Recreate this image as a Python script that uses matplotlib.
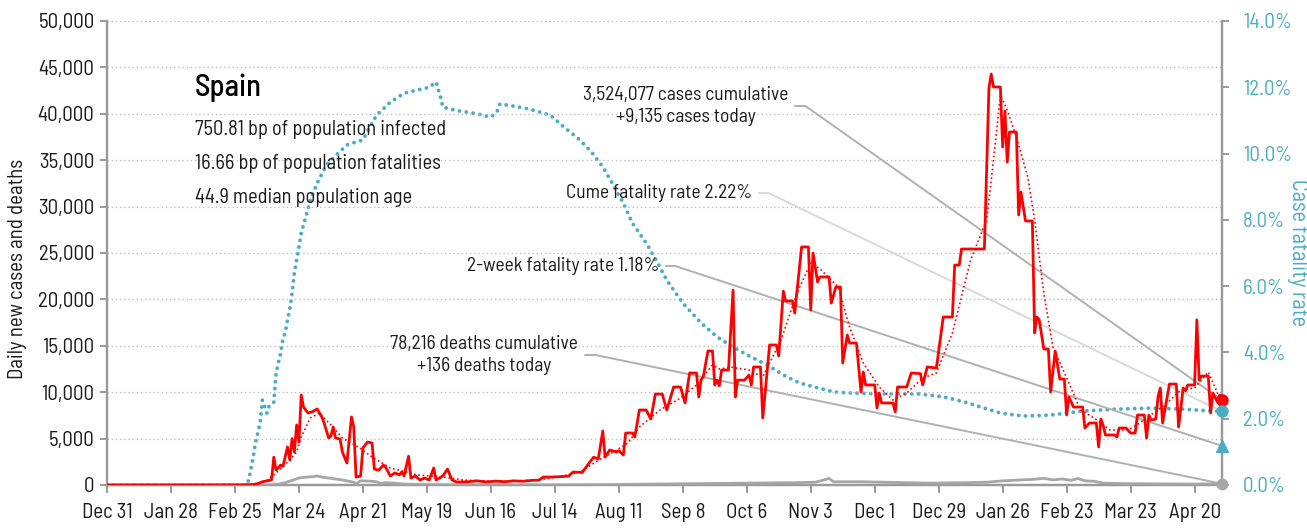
import matplotlib
matplotlib.use("Agg")
import matplotlib.pyplot as plt
import matplotlib.ticker as mticker
import pandas as pd
from matplotlib import font_manager

START = pd.Timestamp("2019-12-31")

# daily new cases (day offset from Dec 31, value)
case_days = [0, 60, 64, 66, 68, 70, 72, 73, 74, 76, 77, 79, 80, 81, 82, 83, 84, 85, 86, 88,
             90, 92, 94, 95, 97, 98, 99, 100, 102, 103, 105, 107, 108, 109, 111, 112, 114, 116, 117, 119,
             121, 122, 124, 126, 128, 129, 130, 132, 133, 135, 137, 139, 141, 143, 144, 147, 149, 151, 153, 158,
             162, 166, 170, 174, 178, 182, 186, 189, 191, 195, 198, 202, 204, 208, 211, 213, 215, 217, 218, 220,
             223, 224, 226, 227, 230, 231, 233, 236, 238, 240, 243, 245, 248, 251, 253, 255, 258, 259, 260, 261,
             263, 265, 266, 267, 268, 269, 272, 274, 275, 276, 279, 281, 282, 283, 286, 287, 290, 293, 294, 296,
             297, 300, 301, 304, 307, 308, 309, 311, 312, 316, 317, 319, 321, 322, 324, 325, 328, 330, 331, 332,
             336, 337, 338, 339, 344, 345, 346, 350, 352, 356, 357, 359, 363, 366, 370, 371, 373, 374, 384, 386,
             387, 388, 391, 392, 393, 394, 395, 398, 399, 400, 402, 405, 406, 407, 408, 410, 412, 413, 415, 417,
             419, 420, 421, 423, 427, 428, 430, 433, 434, 435, 436, 437, 441, 442, 443, 446, 448, 450, 451, 454,
             455, 456, 457, 459, 460, 461, 462, 464, 465, 468, 469, 471, 472, 473, 476, 477, 478, 479, 482, 483,
             484, 486, 487, 488]
case_vals = [0, 0, 50, 150, 350, 450, 540, 3000, 1600, 2150, 2000, 4100, 2700, 5000, 3550, 6470, 4630, 9700, 8400, 7760,
             7900, 8200, 7330, 6700, 5070, 5280, 6250, 5070, 4960, 3560, 2370, 7330, 6250, 860, 970, 3990, 4630, 4530, 1720, 1600,
             2150, 1900, 970, 1300, 1100, 1400, 970, 3100, 750, 970, 540, 750, 540, 1830, 540, 970, 1720, 540, 320, 350,
             450, 330, 420, 350, 450, 400, 500, 520, 860, 860, 900, 950, 1400, 1350, 2370, 3000, 2800, 5820, 3000, 3770,
             3560, 3700, 3230, 5600, 5600, 5170, 8080, 8080, 7110, 9800, 9800, 8080, 10560, 10560, 8840, 12070, 12070, 9480, 11300, 11700,
             14440, 14440, 10780, 11300, 10700, 12390, 12390, 21000, 9480, 11300, 11300, 11850, 10780, 12720, 12720, 7220, 15090, 15090, 13900, 20900,
             19830, 19830, 18530, 25650, 25650, 18860, 25000, 21880, 22420, 22420, 19600, 21340, 21340, 13150, 16160, 15300, 15300, 10020, 12180, 10780,
             10780, 8300, 9910, 8840, 8840, 7870, 10560, 10560, 12070, 12000, 10780, 12720, 12610, 18100, 18100, 23700, 23700, 25430, 25430, 42780,
             44290, 42890, 42890, 36420, 40300, 34800, 38040, 38040, 29100, 31570, 28450, 28450, 16380, 18100, 17800, 14660, 14660, 10020, 14440, 11420,
             11420, 7540, 9480, 8400, 8400, 6140, 6680, 6680, 4100, 7110, 6400, 5390, 5390, 5170, 6140, 6140, 5600, 5600, 7540, 7540,
             5060, 7540, 7000, 7100, 9480, 10450, 6680, 9480, 10880, 10880, 6250, 10450, 10130, 10780, 10780, 17800, 11300, 11740, 11740, 7760,
             9910, 8940, 9700, 9135]

# smoothed new cases
avg_days = [0, 65, 70, 74, 80, 83, 85, 89, 93, 98, 103, 110, 116, 124, 136, 147, 156, 165, 180, 190,
            198, 207, 216, 222, 228, 233, 242, 251, 258, 265, 268, 273, 281, 287, 295, 302, 308, 312, 320, 325,
            331, 338, 344, 350, 357, 363, 370, 378, 385, 388, 391, 394, 398, 403, 406, 410, 414, 421, 426, 432,
            439, 447, 452, 458, 464, 470, 476, 482, 486, 488]
avg_vals = [0, 50, 500, 1290, 2700, 3560, 5170, 7220, 7760, 6470, 5070, 4100, 3020, 1830, 1080, 860, 540, 420, 420, 600,
            900, 1400, 2800, 3600, 4530, 6250, 8080, 9370, 10780, 12930, 12500, 12700, 12390, 11640, 15630, 20690, 23920, 23300, 21340, 17030,
            13150, 10560, 9160, 9910, 11530, 12070, 16380, 24250, 28560, 35020, 42030, 40410, 37500, 33190, 28560, 20690, 14870, 10990, 8080, 7220,
            5930, 5930, 6680, 7760, 8840, 10240, 10450, 12180, 9910, 9370]

# daily deaths
death_days = [0, 70, 75, 78, 81, 84, 87, 90, 92, 94, 97, 100, 103, 106, 108, 109, 111, 115, 118, 120,
              122, 126, 130, 140, 150, 200, 220, 240, 260, 280, 300, 310, 316, 318, 330, 340, 350, 360, 375, 385,
              392, 400, 405, 410, 414, 418, 422, 425, 428, 432, 436, 445, 460, 475, 488]
death_vals = [0, 0, 100, 250, 500, 750, 850, 900, 970, 850, 750, 650, 540, 400, 300, 150, 450, 420, 350, 150,
              250, 200, 100, 50, 30, 20, 50, 100, 150, 200, 250, 300, 700, 350, 350, 300, 250, 200, 250, 300,
              450, 550, 600, 720, 550, 650, 500, 700, 450, 400, 200, 150, 120, 100, 136]

# case fatality rate, percent
cfr_days = [0, 61, 62, 64, 65, 67, 68, 70, 71, 73, 74, 76, 77, 78, 79, 80, 81, 82, 83, 84,
            85, 87, 89, 92, 96, 101, 105, 109, 112, 115, 118, 124, 130, 136, 141, 144, 146, 147, 153, 162,
            168, 171, 172, 178, 185, 194, 200, 206, 212, 217, 222, 226, 230, 236, 241, 245, 252, 260, 267, 274,
            282, 289, 296, 303, 311, 318, 324, 340, 355, 366, 375, 384, 391, 401, 413, 427, 442, 457, 471, 484,
            488]
cfr_vals = [0, 0, 0.15, 0.84, 1.27, 1.87, 2.56, 2.17, 2.4, 2.5, 3.38, 3.98, 4.4, 4.6, 4.98, 5.3, 5.79, 6.4, 6.79, 7.18,
            7.6, 8.09, 8.6, 9.11, 9.65, 10.0, 10.26, 10.35, 10.41, 10.8, 11.16, 11.55, 11.82, 11.92, 12.0, 12.16, 11.7, 11.4, 11.3, 11.2,
            11.1, 11.3, 11.5, 11.43, 11.34, 11.16, 10.8, 10.47, 10.05, 9.6, 9.0, 8.5, 7.9, 7.3, 6.7, 6.18, 5.49, 4.89, 4.47, 4.16,
            3.86, 3.62, 3.32, 3.08, 2.93, 2.81, 2.78, 2.75, 2.75, 2.66, 2.51, 2.32, 2.17, 2.08, 2.11, 2.23, 2.29, 2.32, 2.29, 2.23,
            2.22]

cases_today = 9135
deaths_today = 136
cume_rate = 2.22
two_week_rate = 1.18

tick_labels = ["Dec 31", "Jan 28", "Feb 25", "Mar 24", "Apr 21", "May 19", "Jun 16", "Jul 14", "Aug 11",
               "Sep 8", "Oct 6", "Nov 3", "Dec 1", "Dec 29", "Jan 26", "Feb 23", "Mar 23", "Apr 20"]

info_lines = ["750.81 bp of population infected",
              "16.66 bp of population fatalities",
              "44.9 median population age"]

RED = "#ff0000"
BLUE = "#4bacc6"
GREY = "#a6a6a6"
AXIS = "#9a9a9a"
TEXT = "#1a1a1a"

installed = {f.name for f in font_manager.fontManager.ttflist}
family = next((f for f in ["Barlow Semi Condensed", "Barlow Condensed", "Roboto Condensed",
                           "Liberation Sans Narrow"] if f in installed), "DejaVu Sans")
plt.rcParams["font.family"] = family


def to_date(days):
    return START + pd.to_timedelta(days, unit="D")


fig = plt.figure(figsize=(13.07, 5.29), dpi=100)
ax = fig.add_axes([107 / 1307, 44 / 529, 1115 / 1307, 464 / 529])
ax2 = ax.twinx()
ax.set_zorder(2)
ax2.set_zorder(1)
ax.patch.set_visible(False)

end_day = case_days[-1]
ax.set_xlim(to_date(0), to_date(end_day))
ax.set_ylim(0, 50000)
ax2.set_ylim(0, 14)
scale = 50000 / 14  # right-axis percent -> left-axis units

# grid
for v in range(5000, 50001, 5000):
    ax.axhline(v, color="#bdbdbd", lw=1.0, ls=(0, (1, 2)), zorder=0)

# series
ax2.plot(to_date(cfr_days), cfr_vals, color=BLUE, lw=2.8, ls=(0, (0.01, 1.75)),
         dash_capstyle="round", zorder=3)
ax.plot(to_date(death_days), death_vals, color=GREY, lw=2.0, zorder=3)
ax.plot(to_date(avg_days), avg_vals, color=RED, lw=1.2, ls=(0, (1, 1.6)), zorder=4)
ax.plot(to_date(case_days), case_vals, color=RED, lw=2.0, zorder=5)

# leader lines from the labels to the end markers
end = to_date(end_day)
leaders = [
    (298.2, 305.7, 40840, cases_today, "#b0b0b0",
     "{:,} cases cumulative\n+{:,} cases today".format(3524077, cases_today)),
    (282.4, 289.5, 31466, cume_rate * scale, "#d9d9d9",
     "Cume fatality rate {:.2f}%".format(cume_rate)),
    (241.7, 248.7, 23600, two_week_rate * scale, "#b0b0b0",
     "2-week fatality rate {:.2f}%".format(two_week_rate)),
    (206.3, 213.7, 14009, deaths_today, "#b0b0b0",
     "{:,} deaths cumulative\n+{:,} deaths today".format(78216, deaths_today)),
]
for tx, ex, ty, target, col, label in leaders:
    ax.plot([to_date(tx + 3), to_date(ex), end], [ty, ty, target], color=col, lw=1.4,
            zorder=1, clip_on=False)
    ax.text(to_date(tx), ty, label, ha="right", va="center", multialignment="center",
            fontsize=14, color=TEXT, linespacing=1.25, zorder=6)

# end markers
ax.plot([end], [cases_today], "o", color=RED, ms=8, clip_on=False, zorder=7)
ax.plot([end], [deaths_today], "o", color=GREY, ms=7.5, clip_on=False, zorder=7)
ax.plot([end], [cume_rate * scale], "o", color=BLUE, ms=8, clip_on=False, zorder=7)
ax.plot([end], [two_week_rate * scale], "^", color=BLUE, ms=9, clip_on=False, zorder=7)

# country block
ax.text(to_date(38.5), 42780, "Spain", fontsize=22, weight="medium", color="black", va="center")
for i, line in enumerate(info_lines):
    ax.text(to_date(38.5), 38360 - i * 3700, line, fontsize=14.7, color=TEXT, va="center")

# axes styling
for a in (ax, ax2):
    a.spines["top"].set_visible(False)
    for s in ("left", "right", "bottom"):
        a.spines[s].set_color(AXIS)
        a.spines[s].set_linewidth(1.6)

ax.set_xticks([to_date(d) for d in range(0, 28 * len(tick_labels), 28)])
ax.set_xticklabels(tick_labels)
ax.yaxis.set_major_locator(mticker.MultipleLocator(5000))
ax.yaxis.set_major_formatter(mticker.FuncFormatter(lambda v, p: "{:,.0f}".format(v)))
ax.tick_params(axis="x", length=6, width=1.4, color=AXIS, pad=7, labelsize=15, labelcolor=TEXT)
ax.tick_params(axis="y", length=5, width=1.4, color=AXIS, pad=4, labelsize=15, labelcolor=TEXT)
ax.set_ylabel("Daily new cases and deaths", fontsize=15, color=TEXT, va="center")
ax.yaxis.set_label_coords(-0.080, 0.466)

ax2.yaxis.set_major_locator(mticker.MultipleLocator(2))
ax2.yaxis.set_major_formatter(mticker.FuncFormatter(lambda v, p: "{:.1f}%".format(v)))
ax2.tick_params(axis="y", length=5, width=1.4, color=AXIS, pad=10, labelsize=15, labelcolor=BLUE)
ax2.set_ylabel("Case fatality rate", fontsize=16, color=BLUE, rotation=270, va="center")
ax2.yaxis.set_label_coords(1.0673, 0.5)

fig.savefig("out.png", dpi=100)
